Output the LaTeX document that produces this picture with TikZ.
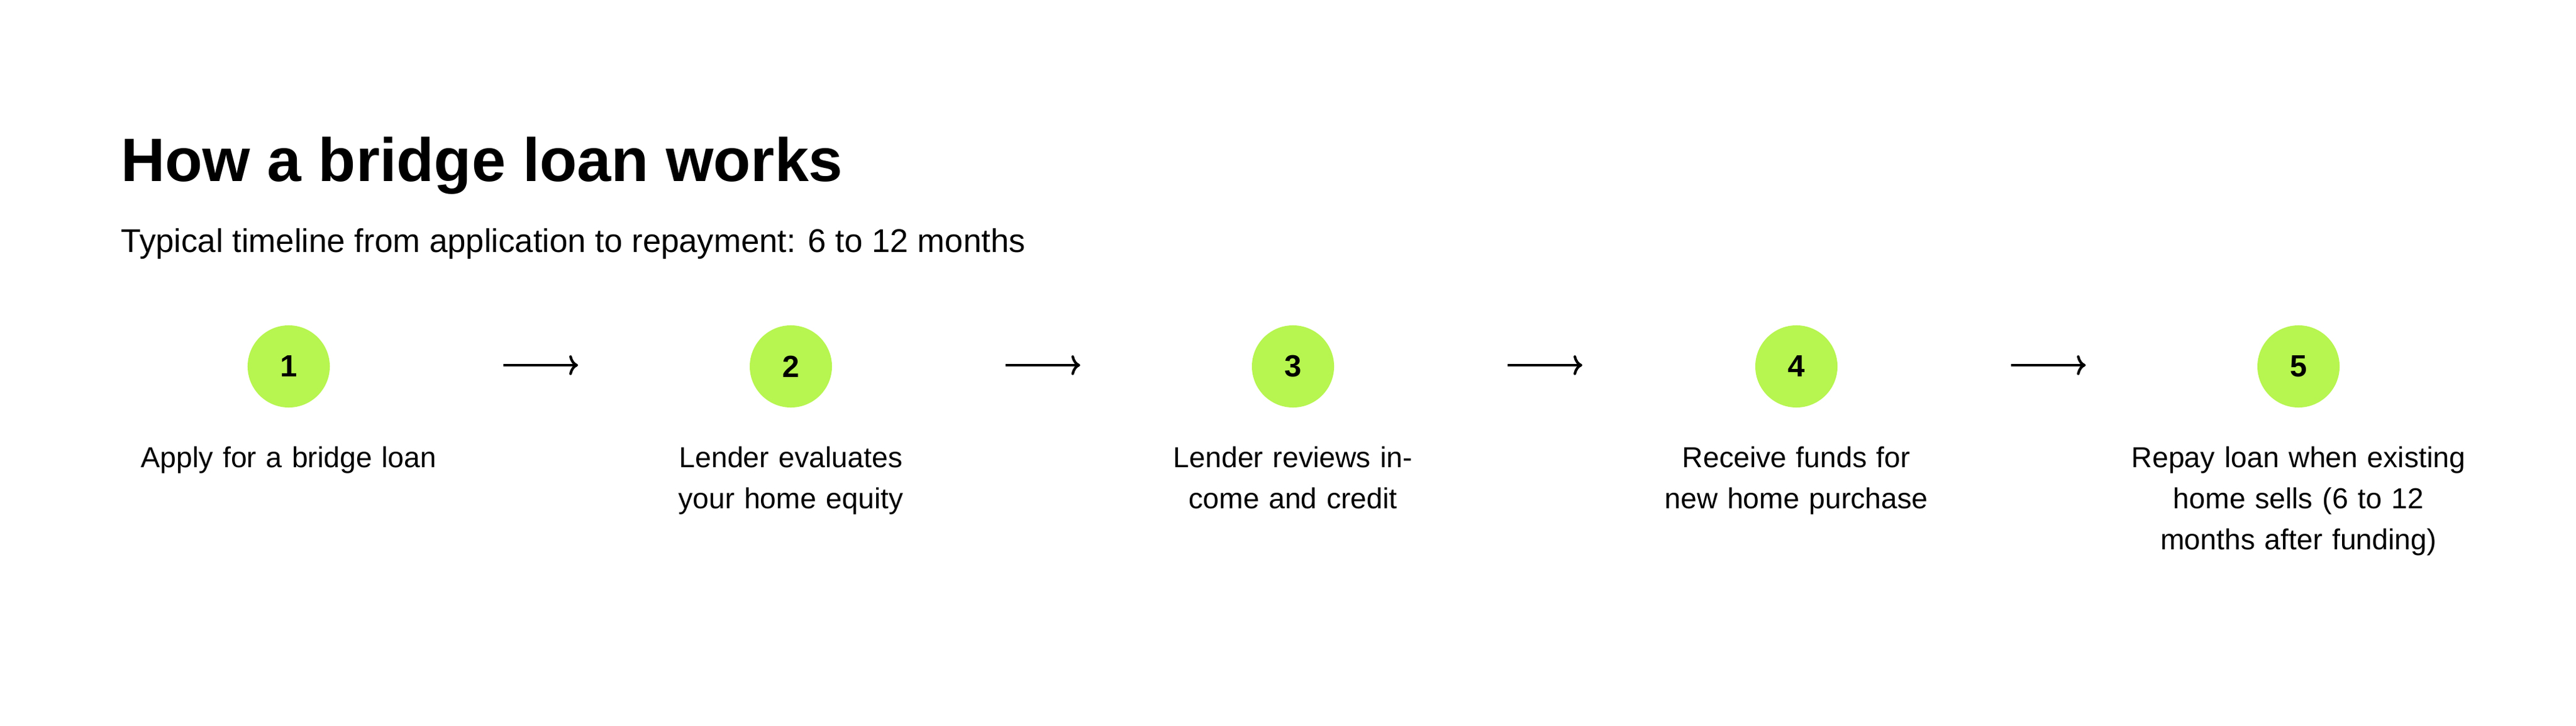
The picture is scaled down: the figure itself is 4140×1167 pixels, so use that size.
\documentclass[tikz,border=0pt]{standalone}
\usepackage{fontspec}
\setmainfont{Liberation Sans}
\usepackage{xcolor}
\usetikzlibrary{arrows.meta,shapes}
\definecolor{lime}{HTML}{B7F550}
\tikzset{
  stepdot/.style={circle, fill=lime, minimum size=132*0.2845pt, inner sep=0pt, font=\fontsize{14}{16}\selectfont\bfseries},
  steptext/.style={align=center, text width=560*0.2845pt, anchor=north, font=\fontsize{13.2}{18.8}\selectfont},
  flow/.style={-{To[length=4pt,width=9pt]}, line width=1.2pt}
}
\begin{document}
\begin{tikzpicture}[x=0.01cm,y=-0.01cm]
    \useasboundingbox (0,0) rectangle (4140,1167);
    \node[anchor=base west, inner sep=0pt, font=\fontsize{28}{32}\selectfont\bfseries](title) at (194,292){How a bridge loan works};
    \node[anchor=base west, inner sep=0pt, font=\fontsize{15}{18}\selectfont](sub) at (194,406){Typical timeline from application to repayment: 6 to 12 months};

    \node[stepdot](s1) at (464,589){1};
    \node[stepdot](s2) at (1271,589){2};
    \node[stepdot](s3) at (2078,589){3};
    \node[stepdot](s4) at (2887,589){4};
    \node[stepdot](s5) at (3694,589){5};

    \coordinate (a1) at (809,587); \coordinate (b1) at (929,587);
    \coordinate (a2) at (1616,587); \coordinate (b2) at (1736,587);
    \coordinate (a3) at (2423,587); \coordinate (b3) at (2543,587);
    \coordinate (a4) at (3232,587); \coordinate (b4) at (3352,587);
    \draw[flow] (a1) -- (b1);
    \draw[flow] (a2) -- (b2);
    \draw[flow] (a3) -- (b3);
    \draw[flow] (a4) -- (b4);

\node[steptext](t1) at (464,705){Apply for a bridge loan};
\node[steptext](t2) at (1271,705){Lender evaluates your home equity};
\node[steptext](t3) at (2078,705){Lender reviews income and credit};
\node[steptext](t4) at (2887,705){Receive funds for new home purchase};
\node[steptext](t5) at (3694,705){Repay loan when existing home sells (6 to 12 months after funding)};
\end{tikzpicture}
\end{document}
